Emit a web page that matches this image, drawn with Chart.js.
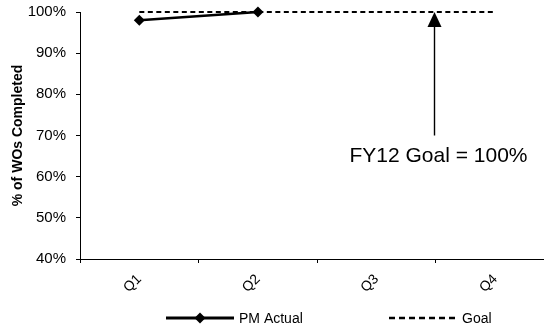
<!DOCTYPE html>
<html>
<head>
<meta charset="utf-8">
<script src="https://cdn.jsdelivr.net/npm/chart.js@4/dist/chart.umd.min.js"></script>
<style>
  html, body { margin: 0; padding: 0; background: #fff; overflow: hidden; }
  #wrap { width: 560px; height: 328px; }
</style>
</head>
<body>
<div id="wrap"><canvas id="chart"></canvas></div>
<script>
"use strict";

// Chart data
const quarters = ["Q1", "Q2", "Q3", "Q4"];
const pmActual = [98, 100, null, null];
const goal = [100, 100, 100, 100];

// Axis ticks (percent)
const yMin = 40;
const yMax = 100;
const yStep = 10;

// Annotation: arrow from the note up to the goal line
const noteText = "FY12 Goal = 100%";
const noteAt = 2.48;       // category position (between Q3 and Q4)
const noteArrowFrom = 70;  // % value where the arrow starts
const noteArrowTo = 100;   // % value at the arrow tip
const noteTextAt = 65;     // % value of the text centre

const FONT = "'Liberation Sans', Arial, sans-serif";

/**
 * Draws the annotation arrow + text and a line-style legend below the axis.
 */
const extrasPlugin = {
  id: "extras",
  afterDatasetsDraw(chart) {
    const ctx = chart.ctx;
    const xs = chart.scales.x;
    const ys = chart.scales.y;

    // Arrow
    const ax = Math.round(xs.getPixelForValue(noteAt)) + 0.5;
    const yTip = ys.getPixelForValue(noteArrowTo);
    const yFrom = ys.getPixelForValue(noteArrowFrom);
    ctx.save();
    ctx.strokeStyle = "#000";
    ctx.fillStyle = "#000";
    ctx.lineWidth = 1.4;
    ctx.beginPath();
    ctx.moveTo(ax, yFrom);
    ctx.lineTo(ax, yTip + 14);
    ctx.stroke();
    ctx.beginPath();
    ctx.moveTo(ax, yTip);
    ctx.lineTo(ax - 7, yTip + 15);
    ctx.lineTo(ax + 7, yTip + 15);
    ctx.closePath();
    ctx.fill();

    // Note text
    ctx.font = "21px " + FONT;
    ctx.textAlign = "center";
    ctx.textBaseline = "middle";
    ctx.fillText(noteText, ax + 4, ys.getPixelForValue(noteTextAt));
    ctx.restore();
  },
  afterDraw(chart) {
    const ctx = chart.ctx;
    const ly = 318;
    const items = [
      { ds: chart.data.datasets[0], x0: 166, width: 3, dash: [] },
      { ds: chart.data.datasets[1], x0: 389, width: 2.5, dash: [6, 4] },
    ];
    ctx.save();
    ctx.font = "14px " + FONT;
    ctx.textBaseline = "middle";
    ctx.textAlign = "left";
    items.forEach(({ ds, x0, width, dash }) => {
      const len = 68;
      ctx.strokeStyle = ds.borderColor;
      ctx.lineWidth = width;
      ctx.setLineDash(dash);
      ctx.beginPath();
      ctx.moveTo(x0, ly);
      ctx.lineTo(x0 + len, ly);
      ctx.stroke();
      ctx.setLineDash([]);
      if (ds.pointRadius > 0) {
        const cx = x0 + len / 2;
        const r = ds.pointRadius;
        ctx.fillStyle = ds.pointBackgroundColor;
        ctx.beginPath();
        ctx.moveTo(cx, ly - r);
        ctx.lineTo(cx + r, ly);
        ctx.lineTo(cx, ly + r);
        ctx.lineTo(cx - r, ly);
        ctx.closePath();
        ctx.fill();
      }
      ctx.fillStyle = "#000";
      ctx.fillText(ds.label, x0 + len + 5, ly + 1);
    });
    ctx.restore();
  },
};

const chartCtx = document.getElementById("chart").getContext("2d");

new Chart(chartCtx, {
  type: "line",
  data: {
    labels: quarters,
    datasets: [
      {
        label: "PM Actual",
        data: pmActual,
        borderColor: "#000",
        backgroundColor: "#000",
        borderWidth: 2.5,
        pointStyle: "rectRot",
        pointRadius: 5.5,
        pointHoverRadius: 5.5,
        pointBackgroundColor: "#000",
        pointBorderColor: "#000",
        pointBorderWidth: 0,
        tension: 0,
        spanGaps: false,
        clip: false,
      },
      {
        label: "Goal",
        data: goal,
        borderColor: "#000",
        backgroundColor: "transparent",
        borderWidth: 2,
        borderDash: [5, 3.5],
        pointRadius: 0,
        pointHoverRadius: 0,
        pointBackgroundColor: "#000",
        tension: 0,
        clip: false,
      },
    ],
  },
  options: {
    responsive: true,
    maintainAspectRatio: false,
    animation: false,
    layout: { padding: { top: 12, right: 4, left: 0, bottom: 0 } },
    plugins: {
      legend: { display: false },
      tooltip: { enabled: false },
    },
    scales: {
      x: {
        type: "category",
        offset: true,
        grid: {
          offset: true,
          drawOnChartArea: false,
          drawTicks: true,
          tickLength: 4,
          color: "#000",
        },
        border: { display: true, color: "#000", width: 1 },
        ticks: {
          color: "#000",
          font: { family: FONT, size: 14 },
          minRotation: 45,
          maxRotation: 45,
          padding: 8,
        },
        afterFit(scale) {
          scale.height = 69;
        },
      },
      y: {
        min: yMin,
        max: yMax,
        grid: {
          drawOnChartArea: false,
          drawTicks: true,
          tickLength: 4,
          color: "#000",
        },
        border: { display: true, color: "#000", width: 1 },
        ticks: {
          stepSize: yStep,
          color: "#000",
          padding: 10,
          font: { family: FONT, size: 15 },
          callback: (v) => `${v}%`,
        },
        title: {
          display: true,
          text: "% of WOs Completed",
          color: "#000",
          font: { family: FONT, size: 14, weight: "bold" },
          padding: { top: 10, bottom: 0 },
        },
        afterFit(scale) {
          scale.width = 80;
          // let layout padding alone decide the top/bottom gap
          scale.paddingTop = 0;
          scale.paddingBottom = 0;
        },
      },
    },
  },
  plugins: [extrasPlugin],
});
</script>
</body>
</html>
